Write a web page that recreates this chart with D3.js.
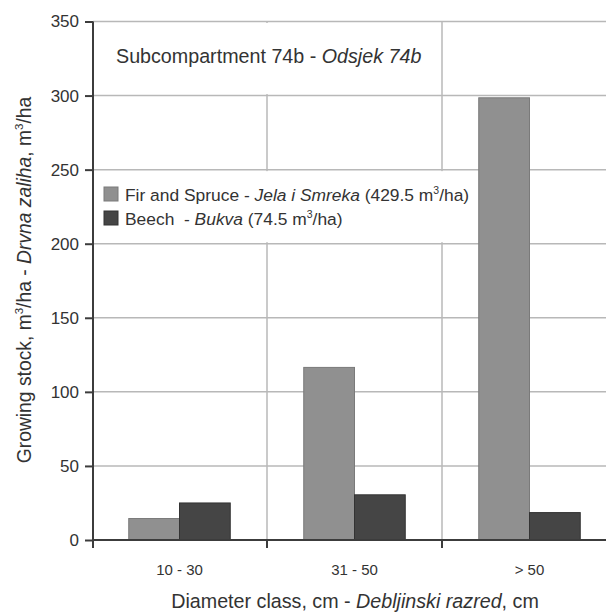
<!DOCTYPE html>
<html><head><meta charset="utf-8">
<script src="https://cdn.jsdelivr.net/npm/d3@7"></script>
<style>
html,body{margin:0;padding:0;background:#fff;}
svg{display:block;font-family:"Liberation Sans",Arial,sans-serif;}
</style></head>
<body>
<svg id="chart" width="606" height="613"></svg>
<script>
const categories = ["10 - 30", "31 - 50", "> 50"];
const firSpruce = [14.5, 116.5, 298.5];
const beech = [25, 30.5, 18.5];
const yTicks = [0, 50, 100, 150, 200, 250, 300, 350];
const seriesNames = ["fir", "beech"];

const svg = d3.select("#chart");
const W = 606, H = 613;
const plotLeft = 93, plotTop = 21.5, plotBottom = 540;

const y = d3.scaleLinear().domain([0, 350]).range([plotBottom, plotTop]);
const x = d3.scaleBand().domain(categories).range([92, 617]).padding(0);
const x1 = d3.scaleBand().domain(seriesNames).range([x.bandwidth()*0.21, x.bandwidth()*0.79]).padding(0);
const colors = {fir: "#909090", beech: "#454545"};
const strokes = {fir: "#7a7a7a", beech: "#333333"};

const grid = "#b8b8b8";
svg.append("g").selectAll("line").data(yTicks.filter(d => d > 0)).join("line")
  .attr("x1", plotLeft).attr("x2", W).attr("y1", d => y(d)).attr("y2", d => y(d))
  .attr("stroke", grid).attr("stroke-width", 1.5);
svg.append("g").selectAll("line").data(categories.slice(1)).join("line")
  .attr("x1", d => x(d)).attr("x2", d => x(d)).attr("y1", plotTop).attr("y2", plotBottom)
  .attr("stroke", grid).attr("stroke-width", 1.5);

// title box
svg.append("rect").attr("x", plotLeft + 1).attr("y", y(350) + 1.5).attr("width", 343).attr("height", y(300) - y(350) - 3).attr("fill", "#fff");
const title = svg.append("text").attr("x", 116).attr("y", 63).attr("font-size", 19.7).attr("fill", "#333");
title.append("tspan").text("Subcompartment 74b - ");
title.append("tspan").attr("font-style", "italic").text("Odsjek 74b");

// legend box
svg.append("rect").attr("x", plotLeft + 1).attr("y", y(250) + 1.5).attr("width", 385).attr("height", y(200) - y(250) - 3).attr("fill", "#fff");
const legendItems = [
  {key: "fir", en: "Fir and Spruce - ", hr: "Jela i Smreka", tot: " (429.5 m", y: 195},
  {key: "beech", en: "Beech  - ", hr: "Bukva", tot: " (74.5 m", y: 219}
];
const lg = svg.append("g");
legendItems.forEach(it => {
  lg.append("rect").attr("x", 104).attr("y", it.y - 8).attr("width", 14).attr("height", 14)
    .attr("fill", colors[it.key]).attr("stroke", strokes[it.key]).attr("stroke-width", 1);
  const t = lg.append("text").attr("x", 125).attr("y", it.y + 6).attr("font-size", 17.4).attr("fill", "#333")
    .style("white-space", "pre");
  t.append("tspan").text(it.en);
  t.append("tspan").attr("font-style", "italic").text(it.hr);
  t.append("tspan").text(it.tot);
  t.append("tspan").attr("font-size", 10.5).attr("dy", -7).text("3");
  t.append("tspan").attr("dy", 7).text("/ha)");
});

// bars
const gBars = svg.append("g");
categories.forEach((c, i) => {
  const vals = {fir: firSpruce[i], beech: beech[i]};
  seriesNames.forEach(s => {
    gBars.append("rect")
      .attr("x", x(c) + x1(s)).attr("width", x1.bandwidth())
      .attr("y", y(vals[s])).attr("height", y(0) - y(vals[s]))
      .attr("fill", colors[s]).attr("stroke", strokes[s]).attr("stroke-width", 1);
  });
});

// axes
const axisCol = "#3c3c3c";
const yAxis = d3.axisLeft(y).tickValues(yTicks).tickSize(8).tickPadding(6);
const gy = svg.append("g").attr("transform", `translate(${plotLeft},0)`).call(yAxis);
gy.select(".domain").remove();
gy.selectAll(".tick line").attr("stroke", axisCol).attr("stroke-width", 2);
gy.selectAll(".tick text").attr("font-size", 17).attr("fill", "#333").attr("font-family", "Liberation Sans, Arial, sans-serif");
svg.append("line").attr("x1", plotLeft).attr("x2", plotLeft).attr("y1", plotTop).attr("y2", plotBottom + 8)
  .attr("stroke", axisCol).attr("stroke-width", 2);
svg.append("line").attr("x1", plotLeft).attr("x2", W).attr("y1", plotBottom).attr("y2", plotBottom)
  .attr("stroke", axisCol).attr("stroke-width", 2);
svg.append("g").selectAll("line").data(categories.slice(1)).join("line")
  .attr("x1", d => x(d)).attr("x2", d => x(d)).attr("y1", plotBottom).attr("y2", plotBottom + 8)
  .attr("stroke", axisCol).attr("stroke-width", 2);
svg.append("g").selectAll("text").data(categories).join("text")
  .attr("x", d => x(d) + x.bandwidth()/2).attr("y", 575).attr("text-anchor", "middle")
  .attr("font-size", 15).attr("fill", "#333").text(d => d);

// x title
const xt = svg.append("text").attr("x", 355).attr("y", 608).attr("text-anchor", "middle").attr("font-size", 19.7).attr("fill", "#333");
xt.append("tspan").text("Diameter class, cm - ");
xt.append("tspan").attr("font-style", "italic").text("Debljinski razred");
xt.append("tspan").text(", cm");

// y title
const yt = svg.append("text").attr("transform", "translate(31,280) rotate(-90)").attr("text-anchor", "middle").attr("font-size", 19.3).attr("fill", "#333");
yt.append("tspan").text("Growing stock, m");
yt.append("tspan").attr("font-size", 11.5).attr("dy", -8).text("3");
yt.append("tspan").attr("dy", 8).text("/ha - ");
yt.append("tspan").attr("font-style", "italic").text("Drvna zaliha");
yt.append("tspan").text(", m");
yt.append("tspan").attr("font-size", 11.5).attr("dy", -8).text("3");
yt.append("tspan").attr("dy", 8).text("/ha");
</script>
</body></html>
